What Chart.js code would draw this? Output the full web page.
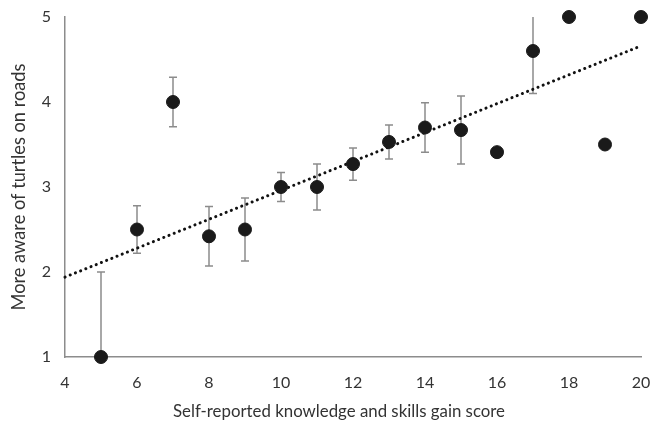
<!DOCTYPE html>
<html>
<head>
<meta charset="utf-8">
<script src="https://cdn.jsdelivr.net/npm/chart.js@4"></script>
<style>
html,body{margin:0;padding:0;background:#fff;}
#wrap{width:655px;height:425px;}
</style>
</head>
<body>
<div id="wrap"><canvas id="c" width="655" height="425"></canvas></div>
<script>
const scores = [5, 6, 7, 8, 9, 10, 11, 12, 13, 14, 15, 16, 17, 18, 19, 20];
const awareness = [1.0, 2.5, 4.0, 2.42, 2.5, 3.0, 3.0, 3.27, 3.53, 3.7, 3.67, 3.41, 4.6, 5.0, 3.5, 5.0];
const errors = [1.0, 0.28, 0.29, 0.35, 0.37, 0.17, 0.27, 0.19, 0.2, 0.29, 0.4, null, 0.5, null, null, null];
const trendX = [4, 20];
const trendY = [1.94, 4.66];
const xTicks = [4, 6, 8, 10, 12, 14, 16, 18, 20];
const yTicks = [1, 2, 3, 4, 5];
const xTitle = 'Self-reported knowledge and skills gain score';
const yTitle = 'More aware of turtles on roads';

const FAMILY = "Lato, 'Liberation Sans', sans-serif";
const TEXT = '#333';

function fitSize(text, target) {
  const c = document.createElement('canvas').getContext('2d');
  c.font = '100px ' + FAMILY;
  return 100 * target / c.measureText(text).width;
}
const xTitleSize = fitSize(xTitle, 332);
const yTitleSize = fitSize(yTitle, 247);

const errorBarPlugin = {
  id: 'errorBars',
  beforeDatasetsDraw(chart) {
    const ctx = chart.ctx;
    const xs = chart.scales.x, ys = chart.scales.y;
    const area = chart.chartArea;
    ctx.save();
    ctx.strokeStyle = '#8c8c8c';
    ctx.lineWidth = 1.5;
    scores.forEach((s, i) => {
      const e = errors[i];
      if (e == null) return;
      const px = xs.getPixelForValue(s);
      const top = ys.getPixelForValue(awareness[i] + e);
      const bot = ys.getPixelForValue(awareness[i] - e);
      const t = Math.max(top, area.top), b = Math.min(bot, area.bottom);
      ctx.beginPath();
      ctx.moveTo(px, t); ctx.lineTo(px, b);
      if (top >= area.top) { ctx.moveTo(px - 4, top); ctx.lineTo(px + 4, top); }
      if (bot <= area.bottom) { ctx.moveTo(px - 4, bot); ctx.lineTo(px + 4, bot); }
      ctx.stroke();
    });
    ctx.restore();
  }
};

const titlePlugin = {
  id: 'axisTitles',
  afterDraw(chart) {
    const ctx = chart.ctx;
    const area = chart.chartArea;
    ctx.save();
    ctx.fillStyle = TEXT;
    ctx.textAlign = 'center';
    ctx.textBaseline = 'middle';
    ctx.font = xTitleSize.toFixed(2) + 'px ' + FAMILY;
    ctx.fillText(xTitle, (area.left + area.right) / 2 - 14, 412);
    ctx.translate(19, (area.top + area.bottom) / 2);
    ctx.rotate(-Math.PI / 2);
    ctx.font = yTitleSize.toFixed(2) + 'px ' + FAMILY;
    ctx.fillText(yTitle, 0, 0);
    ctx.restore();
  }
};

new Chart(document.getElementById('c'), {
  type: 'scatter',
  data: {
    datasets: [
      {
        type: 'line',
        label: 'Trend',
        data: trendX.map((x, i) => ({x: x, y: trendY[i]})),
        borderColor: '#111',
        borderWidth: 3,
        borderDash: [0.1, 5.5],
        borderCapStyle: 'round',
        pointRadius: 0,
        fill: false,
        clip: false,
        order: 2
      },
      {
        label: 'Awareness',
        data: scores.map((x, i) => ({x: x, y: awareness[i]})),
        backgroundColor: '#1a1a1a',
        borderColor: '#1a1a1a',
        pointRadius: 6.5,
        pointHoverRadius: 6.5,
        clip: false,
        order: 1
      }
    ]
  },
  options: {
    responsive: false,
    animation: false,
    layout: { padding: { left: 0, top: 17, right: 14, bottom: 0 } },
    plugins: { legend: { display: false }, tooltip: { enabled: false } },
    scales: {
      x: {
        type: 'linear',
        min: 4, max: 20,
        afterBuildTicks: s => { s.ticks = xTicks.map(v => ({value: v})); },
        afterFit: s => { s.height = 68; s.paddingRight = 0; s.paddingLeft = 0; },
        grid: { display: false, drawTicks: false },
        border: { color: '#8c8c8c', width: 1.5 },
        ticks: { color: TEXT, font: { family: FAMILY, size: 16 }, padding: 16 },
        title: { display: false }
      },
      y: {
        type: 'linear',
        min: 1, max: 5,
        afterBuildTicks: s => { s.ticks = yTicks.map(v => ({value: v})); },
        afterFit: s => { s.width = 65; s.paddingTop = 0; s.paddingBottom = 0; },
        grid: { display: false, drawTicks: false },
        border: { color: '#8c8c8c', width: 1.5 },
        ticks: { color: TEXT, font: { family: FAMILY, size: 16 }, padding: 14 },
        title: { display: false }
      }
    }
  },
  plugins: [errorBarPlugin, titlePlugin]
});
</script>
</body>
</html>
